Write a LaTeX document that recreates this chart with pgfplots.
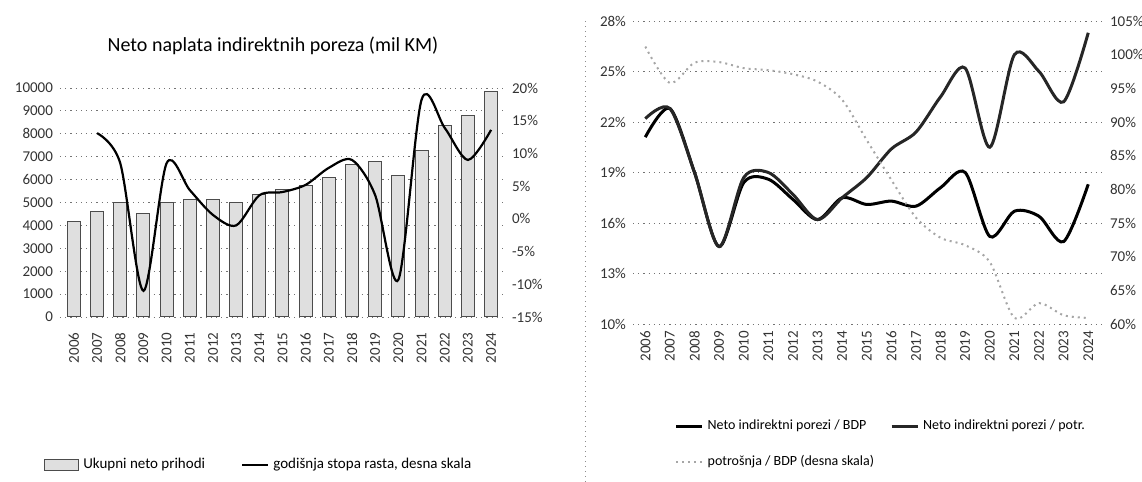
\documentclass[border=0pt]{standalone}
\usepackage{fontspec}
\setmainfont{Carlito}
\usepackage{pgfplots}
\usepackage{pgfplotstable}
\pgfplotsset{compat=1.18}

% ukupni neto prihodi (mil KM)
\pgfplotstableread{
god prihodi
2006 4150
2007 4590
2008 4980
2009 4540
2010 4980
2011 5110
2012 5110
2013 5020
2014 5330
2015 5550
2016 5760
2017 6070
2018 6640
2019 6770
2020 6200
2021 7290
2022 8380
2023 8820
2024 9830
}\prihodi

% godisnja stopa rasta (%)
\pgfplotstableread{
god rast
2007 13.1
2008 8.5
2009 -11.0
2010 8.5
2011 4.4
2012 0.6
2013 -1.0
2014 3.6
2015 4.1
2016 5.2
2017 7.8
2018 9.0
2019 3.6
2020 -9.3
2021 18.2
2022 13.9
2023 9.0
2024 13.6
}\rast

% desni grafikon
\pgfplotstableread{
god bdp potr potrbdp
2006 21.1 22.2 101.2
2007 22.8 22.8 95.8
2008 19.0 19.0 98.8
2009 14.6 14.6 98.9
2010 18.4 18.7 98.0
2011 18.6 19.0 97.7
2012 17.4 17.7 97.1
2013 16.2 16.2 96.0
2014 17.5 17.5 93.3
2015 17.1 18.7 87.3
2016 17.3 20.4 81.4
2017 17.0 21.4 75.8
2018 18.1 23.5 72.8
2019 19.0 25.2 71.7
2020 15.2 20.5 69.2
2021 16.7 26.0 60.9
2022 16.4 25.0 63.1
2023 14.9 23.2 61.3
2024 18.3 27.3 60.9
}\omjeri

\pgfplotsset{
  osnova/.style={
    scale only axis,
    axis line style={draw=none},
    tick style={draw=none},
    scaled ticks=false,
    /pgf/number format/assume math mode=true,
    /pgf/number format/1000 sep={},
    tick label style={font=\fontsize{7.5}{8}\selectfont, text=black!80},
  },
  mreza/.style={
    ymajorgrids,
    major grid style={black!55, dash pattern=on 0.6pt off 2pt},
  },
  legend image code/.code={\draw[#1] (0pt,0pt) -- (13pt,0pt);},
}

\begin{document}
\begin{tikzpicture}
\useasboundingbox (0,0) rectangle (571pt,241pt);

% separator stranice
\draw[black!45, dash pattern=on 0.5pt off 2pt] (292.5pt,0pt) -- (292.5pt,232pt);

% ---------- lijevi grafikon ----------
\begin{axis}[osnova, mreza,
  at={(30pt,82.5pt)}, anchor=south west,
  width=222.5pt, height=114.5pt,
  xmin=2005.4, xmax=2024.6,
  ymin=0, ymax=10000,
  ytick={0,1000,...,10000},
  xtick={2006,...,2024},
  xticklabel style={rotate=90, anchor=east},
  ybar, bar width=6.5pt,
]
\addplot[fill=gray!25, draw=black!70, line width=0.5pt] table[x=god, y=prihodi] {\prihodi};
\end{axis}

\begin{axis}[osnova,
  at={(30pt,82.5pt)}, anchor=south west,
  width=222.5pt, height=114.5pt,
  xmin=2005.4, xmax=2024.6,
  ymin=-15, ymax=20,
  axis x line=none,
  axis y line*=right,
  ytick={-15,-10,...,20},
  yticklabels={-15\%,-10\%,-5\%,0\%,5\%,10\%,15\%,20\%},
  yticklabel style={anchor=west},
  legend style={at={(0.449,-0.646)}, anchor=center, draw=none, fill=none,
    legend columns=2, font=\fontsize{7.5}{9}\selectfont,
    /tikz/every even column/.append style={column sep=16pt}},
]
\addlegendimage{area legend, fill=gray!25, draw=black!70}
\addlegendentry{Ukupni neto prihodi}
\addplot[black, line width=1.1pt, smooth] table[x=god, y=rast] {\rast};
\addlegendentry{godišnja stopa rasta, desna skala}
\end{axis}

\node[font=\fontsize{10}{12}\selectfont] at (136.5pt,218pt) {Neto naplata indirektnih poreza (mil KM)};

% ---------- desni grafikon ----------
\begin{axis}[osnova, mreza,
  at={(316.5pt,79pt)}, anchor=south west,
  width=235pt, height=151.5pt,
  xmin=2005.5, xmax=2024.6,
  ymin=10, ymax=28,
  ytick={10,13,...,28},
  yticklabels={10\%,13\%,16\%,19\%,22\%,25\%,28\%},
  xtick={2006,...,2024},
  xticklabel style={rotate=90, anchor=east},
]
\addplot[black, line width=1.5pt, smooth] table[x=god, y=bdp] {\omjeri};
\addplot[black!85, line width=1.5pt, smooth] table[x=god, y=potr] {\omjeri};
\end{axis}

\begin{axis}[osnova,
  at={(316.5pt,79pt)}, anchor=south west,
  width=235pt, height=151.5pt,
  xmin=2005.5, xmax=2024.6,
  ymin=60, ymax=105,
  axis x line=none,
  axis y line*=right,
  ytick={60,65,...,105},
  yticklabels={60\%,65\%,70\%,75\%,80\%,85\%,90\%,95\%,100\%,105\%},
  yticklabel style={anchor=west},
  legend style={at={(0.075,-0.29)}, anchor=north west, draw=none, fill=none,
    legend columns=2, legend cell align=left, font=\fontsize{7}{8}\selectfont,
    row sep=7pt,
    /tikz/every even column/.append style={column sep=6pt}},
]
\addlegendimage{black, line width=1.5pt}
\addlegendentry{Neto indirektni porezi / BDP}
\addlegendimage{black!85, line width=1.5pt}
\addlegendentry{Neto indirektni porezi / potr.}
\addplot[gray!70, line width=1pt, dotted, smooth] table[x=god, y=potrbdp] {\omjeri};
\addlegendentry{potrošnja / BDP (desna skala)}
\end{axis}
\end{tikzpicture}
\end{document}
